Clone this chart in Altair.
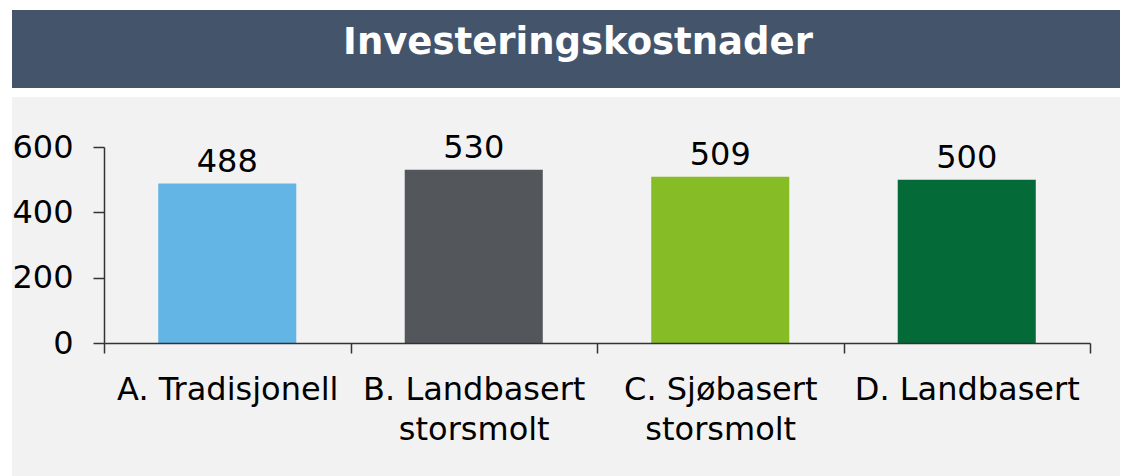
import altair as alt
import pandas as pd

categories = ["A. Tradisjonell", "B. Landbasert|storsmolt", "C. Sjøbasert|storsmolt", "D. Landbasert"]
values = [488, 530, 509, 500]
colors = ["#62B5E5", "#53565A", "#86BC25", "#046A38"]
title_text = "Investeringskostnader"

FONT = "DejaVu Sans"

df = pd.DataFrame({"cat": categories, "val": values})
one = pd.DataFrame({"a": [0]})

panel = alt.Chart(one).mark_rect(color="#F2F2F2").encode(
    x=alt.value(-92), x2=alt.value(1016), y=alt.value(-50), y2=alt.value(340)
)
titlebar = alt.Chart(one).mark_rect(color="#44546A").encode(
    x=alt.value(-92), x2=alt.value(1016), y=alt.value(-137), y2=alt.value(-59)
)
title = alt.Chart(one).mark_text(
    text=title_text, font=FONT, fontSize=37, fontWeight="bold", color="white",
    align="center", baseline="middle"
).encode(x=alt.value(474), y=alt.value(-104))

xenc = alt.X(
    "cat:N", sort=categories, title=None,
    scale=alt.Scale(paddingInner=0, paddingOuter=0),
    axis=alt.Axis(
        labelAngle=0, tickBand="extent", tickSize=10, labelPadding=21,
        labelFontSize=32, labelFont=FONT, labelColor="black", labelLineHeight=40,
        labelExpr="split(datum.label, '|')", domainColor="#333333", tickColor="#333333",
        domainWidth=1.5, tickWidth=1.5, zindex=1, labelLimit=400,
    ),
)
yenc = alt.Y(
    "val:Q", title=None,
    scale=alt.Scale(domain=[0, 600], nice=False),
    axis=alt.Axis(
        values=[0, 200, 400, 600], grid=False, tickSize=11, labelPadding=20,
        labelFontSize=32, labelFont=FONT, labelColor="black",
        domainColor="#333333", tickColor="#333333", domainWidth=1.5, tickWidth=1.5,
        zindex=1,
    ),
)

bars = alt.Chart(df).mark_bar(width=alt.RelativeBandSize(0.56)).encode(
    x=xenc, y=yenc,
    color=alt.Color("cat:N", sort=categories, scale=alt.Scale(domain=categories, range=colors), legend=None),
)
labels = alt.Chart(df).mark_text(
    font=FONT, fontSize=32, color="black", baseline="bottom", dy=-5
).encode(x=alt.X("cat:N", sort=categories), y="val:Q", text="val:Q")

chart = alt.layer(panel, titlebar, title, bars, labels).properties(
    width=986, height=196,
    autosize=alt.AutoSizeParams(type="none"),
    padding={"left": 96, "top": 139, "right": 36, "bottom": 133},
    background="white",
).configure_view(stroke=None)

chart.save("out.html", embed_options={"renderer": "svg", "actions": False})
